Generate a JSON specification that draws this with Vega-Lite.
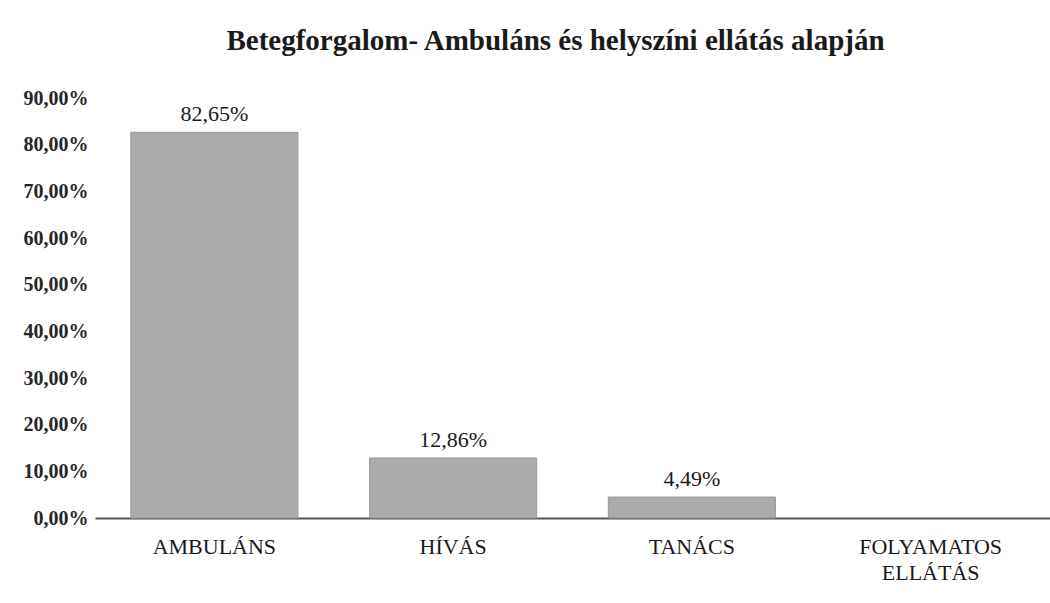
{
  "$schema": "https://vega.github.io/schema/vega-lite/v6.json",
  "autosize": "none",
  "width": 955,
  "height": 420,
  "padding": {"left": 95, "top": 98, "right": 0, "bottom": 85},
  "background": "white",
  "config": {
    "locale": {"number": {"decimal": ",", "thousands": " ", "grouping": [3], "currency": ["", ""]}},
    "view": {"stroke": null},
    "font": "Liberation Serif"
  },
  "title": {
    "text": "Betegforgalom- Ambuláns és helyszíni ellátás alapján",
    "font": "Liberation Serif",
    "fontSize": 29,
    "fontWeight": "bold",
    "color": "#1a1a1a",
    "anchor": "middle",
    "dx": -17,
    "offset": 32
  },
  "data": {
    "values": [
      {"kategoria": "AMBULÁNS", "arany": 0.8265},
      {"kategoria": "HÍVÁS", "arany": 0.1286},
      {"kategoria": "TANÁCS", "arany": 0.0449},
      {"kategoria": "FOLYAMATOS ELLÁTÁS", "arany": 0}
    ]
  },
  "encoding": {
    "x": {
      "field": "kategoria",
      "type": "nominal",
      "sort": null,
      "scale": {
        "domain": ["AMBULÁNS", "HÍVÁS", "TANÁCS", "FOLYAMATOS ELLÁTÁS"],
        "paddingInner": 0.3,
        "paddingOuter": 0.15
      },
      "axis": {
        "title": null,
        "labelAngle": 0,
        "labelFont": "Liberation Serif",
        "labelFontSize": 22,
        "labelColor": "#1a1a1a",
        "labelPadding": 18,
        "labelLineHeight": 26,
        "labelExpr": "datum.label == 'FOLYAMATOS ELLÁTÁS' ? ['FOLYAMATOS', 'ELLÁTÁS'] : datum.label",
        "domainColor": "#555555",
        "domainWidth": 2,
        "ticks": false,
        "grid": false
      }
    },
    "y": {
      "field": "arany",
      "type": "quantitative",
      "scale": {"domain": [0, 0.9], "nice": false},
      "axis": {
        "title": null,
        "values": [0, 0.1, 0.2, 0.3, 0.4, 0.5, 0.6, 0.7, 0.8, 0.9],
        "format": ".2%",
        "labelFont": "Liberation Serif",
        "labelFontSize": 20,
        "labelFontWeight": "bold",
        "labelColor": "#262626",
        "labelPadding": 7,
        "domain": false,
        "ticks": false,
        "grid": false
      }
    }
  },
  "layer": [
    {
      "transform": [{"filter": "datum.arany > 0"}],
      "mark": {"type": "bar", "color": "#ababab", "stroke": "#999999", "strokeWidth": 1}
    },
    {
      "transform": [{"filter": "datum.arany > 0"}],
      "mark": {"type": "text", "baseline": "bottom", "dy": -6, "fontSize": 22, "font": "Liberation Serif", "color": "#1a1a1a"},
      "encoding": {
        "text": {"field": "arany", "type": "quantitative", "format": ".2%"}
      }
    }
  ]
}
